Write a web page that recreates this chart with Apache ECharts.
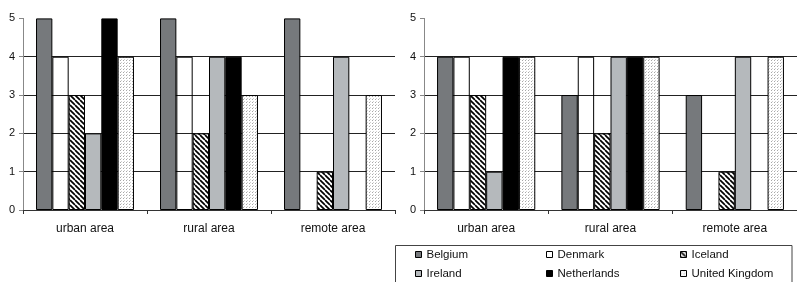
<!DOCTYPE html>
<html><head><meta charset="utf-8">
<script src="https://cdn.jsdelivr.net/npm/echarts@6/dist/echarts.min.js"></script>
<style>html,body{margin:0;padding:0;background:#fff}#c{width:797px;height:282px}</style>
</head><body><div id="c"></div>
<script>
const categories = ['urban area', 'rural area', 'remote area'];
const countries = ['Belgium', 'Denmark', 'Iceland', 'Ireland', 'Netherlands', 'United Kingdom'];
// left chart values, per country across categories
const leftBelgium = [5, 5, 5];
const leftDenmark = [4, 4, 0];
const leftIceland = [3, 2, 1];
const leftIreland = [2, 4, 4];
const leftNetherlands = [5, 4, 0];
const leftUK = [4, 3, 3];
// right chart values
const rightBelgium = [4, 3, 3];
const rightDenmark = [4, 4, 0];
const rightIceland = [3, 2, 1];
const rightIreland = [1, 4, 4];
const rightNetherlands = [4, 4, 0];
const rightUK = [4, 4, 4];
const yTicks = [0, 1, 2, 3, 4, 5];

function hatch() {
  const s = 5, c = document.createElement('canvas');
  c.width = s; c.height = s;
  const g = c.getContext('2d');
  g.fillStyle = '#fff'; g.fillRect(0, 0, s, s);
  g.strokeStyle = '#000'; g.lineWidth = 1.7;
  for (const o of [-s, 0, s]) { g.beginPath(); g.moveTo(o, 0); g.lineTo(o + s, s); g.stroke(); }
  return c;
}
function dots() {
  const c = document.createElement('canvas');
  c.width = 3; c.height = 3;
  const g = c.getContext('2d');
  g.fillStyle = '#fff'; g.fillRect(0, 0, 3, 3);
  g.fillStyle = '#a8a8a8'; g.fillRect(0, 0, 1, 1);
  g.fillStyle = '#d0d0d0'; g.fillRect(1, 2, 1, 1);
  return c;
}
const fills = {
  'Belgium': '#76797c',
  'Denmark': 'rgba(255,255,255,0)',
  'Iceland': { image: hatch(), repeat: 'repeat' },
  'Ireland': '#b5b9bc',
  'Netherlands': '#000000',
  'United Kingdom': { image: dots(), repeat: 'repeat' }
};
const leftData = [leftBelgium, leftDenmark, leftIceland, leftIreland, leftNetherlands, leftUK];
const rightData = [rightBelgium, rightDenmark, rightIceland, rightIreland, rightNetherlands, rightUK];

const series = [];
[leftData, rightData].forEach((set, gi) => {
  set.forEach((vals, i) => {
    series.push({
      type: 'bar', name: countries[i], xAxisIndex: gi, yAxisIndex: gi,
      data: vals.map(v => (v === 0 ? null : v)), barGap: '0%', barCategoryGap: '21%',
      itemStyle: { color: fills[countries[i]], borderColor: '#000', borderWidth: 1 },
      emphasis: { disabled: true }, animation: false
    });
  });
});

function xAx(gi) {
  return {
    type: 'category', gridIndex: gi, data: categories,
    axisLine: { lineStyle: { color: '#333', width: 1 } },
    axisTick: { show: true, length: 4, lineStyle: { color: '#333' } },
    axisLabel: { color: '#111', fontSize: 12, fontFamily: 'Liberation Sans, Arial', margin: 13 }
  };
}
function yAx(gi) {
  return {
    type: 'value', gridIndex: gi, min: yTicks[0], max: yTicks[yTicks.length - 1], interval: 1,
    axisLine: { show: true, lineStyle: { color: '#888' } },
    axisTick: { show: true, length: 4, lineStyle: { color: '#888' } },
    axisLabel: { color: '#111', fontSize: 11, fontFamily: 'Liberation Sans, Arial', margin: 8 },
    splitLine: { show: true, lineStyle: { color: ['#222', '#222', '#222', '#222', '#222', 'rgba(0,0,0,0)'], width: 1 } }
  };
}

function leg(left, names) {
  return {
    left: left, top: 248, orient: 'vertical', padding: 0, data: names,
    itemWidth: 6, itemHeight: 6, itemGap: 6, itemTextGap: 6, icon: 'rect',
    selectedMode: false,
    itemStyle: { borderColor: '#000', borderWidth: 1 },
    textStyle: { fontSize: 11.5, fontFamily: 'Liberation Sans, Arial', color: '#111', lineHeight: 13 }
  };
}

const chart = echarts.init(document.getElementById('c'), null, { renderer: 'canvas' });
chart.setOption({
  backgroundColor: '#fff',
  animation: false,
  grid: [
    { left: 23, top: 18.4, width: 372, height: 191.6 },
    { left: 424, top: 18.4, width: 378, height: 191.6 }
  ],
  xAxis: [xAx(0), xAx(1)],
  yAxis: [yAx(0), yAx(1)],
  legend: [
    leg(415, ['Belgium', 'Ireland']),
    leg(546, ['Denmark', 'Netherlands']),
    leg(680, ['Iceland', 'United Kingdom'])
  ],
  graphic: [{
    type: 'rect', shape: { x: 395.5, y: 245.5, width: 396.5, height: 60 },
    style: { fill: 'none', stroke: '#444', lineWidth: 1 }, z: 0
  }],
  series: series
});
</script></body></html>
